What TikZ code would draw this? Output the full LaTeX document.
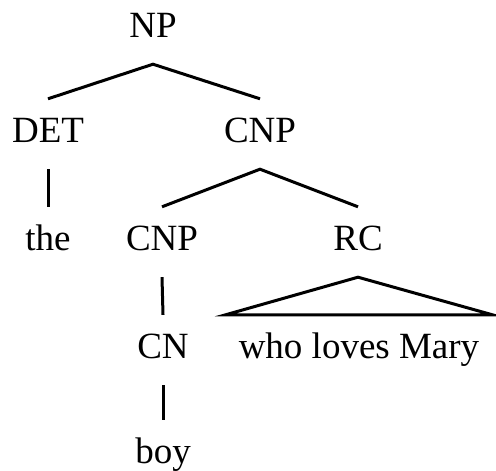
\documentclass[tikz,border=0pt]{standalone}
\usepackage{fontspec}
\setmainfont{Liberation Serif}
\begin{document}
\begin{tikzpicture}[x=1pt,y=1pt,
  cat/.style={anchor=base, font=\fontsize{37}{41}\selectfont,
    text height=24pt, text depth=8pt, inner xsep=0pt, inner ysep=19pt},
  branch/.style={line width=3pt, line cap=butt, line join=miter}]
\useasboundingbox (0,0) rectangle (496,-471);
% categories and words, placed by baseline
\node[cat] (np)   at (153,-37)  {NP};
\node[cat] (det)  at (48,-142)  {DET};
\node[cat] (cnp)  at (260,-142) {CNP};
\node[cat] (the)  at (48,-250)  {the};
\node[cat] (cnpb) at (162,-250) {CNP};
\node[cat] (rc)   at (358,-250) {RC};
\node[cat] (cn)   at (163,-358) {CN};
\node[cat] (wlm)  at (359,-358) {who loves Mary};
\node[cat] (boy)  at (163,-463) {boy};
% tree branches
\draw[branch] (det.north) -- (np.south) -- (cnp.north);
\draw[branch] (det.south) -- (the.north);
\draw[branch] (cnpb.north) -- (cnp.south) -- (rc.north);
\draw[branch] (cnpb.south) -- (cn.north);
\draw[branch] (cn.south) -- (boy.north);
% roof over the unanalysed relative clause
\coordinate (roofl) at ([xshift=-13pt]wlm.north west);
\coordinate (roofr) at ([xshift=13pt]wlm.north east);
\draw[branch] (roofl) -- (rc.south) -- (roofr) -- cycle;
\end{tikzpicture}
\end{document}
